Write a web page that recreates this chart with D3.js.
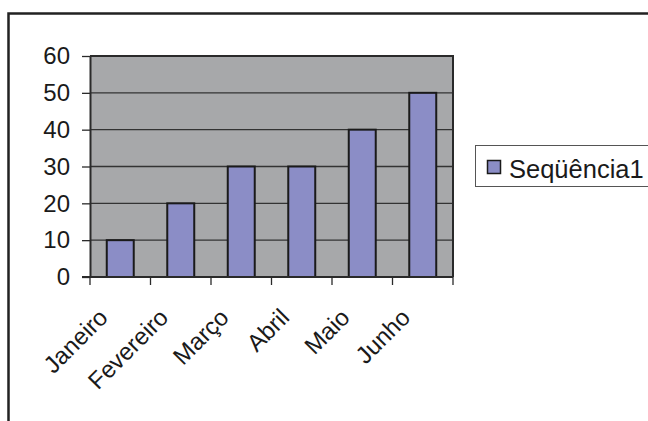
<!DOCTYPE html>
<html lang="pt">
<head>
<meta charset="UTF-8">
<title>Seqüência1</title>
<style>
    body { margin: 0; background: #fff; }
    svg { display: block; font-family: "Liberation Sans", Arial, sans-serif; }
</style>
</head>
<body>
<svg id="chart" width="648" height="421"></svg>
<script src="https://d3js.org/d3.v7.min.js"></script>
<script>
    // data
    const months = ["Janeiro", "Fevereiro", "Março", "Abril", "Maio", "Junho"];
    const values = [10, 20, 30, 30, 40, 50];
    const yTicks = [0, 10, 20, 30, 40, 50, 60];
    const seriesName = "Seqüência1";

    const plot = {left: 90, right: 453, top: 56, bottom: 277};

    const svg = d3.select("#chart");

    // outer frame (runs off the right and bottom of the window)
    svg.append("rect")
        .attr("x", 8.5).attr("y", 13.5)
        .attr("width", 700).attr("height", 500)
        .attr("fill", "none")
        .attr("stroke", "#222")
        .attr("stroke-width", 2.5);

    let x = d3.scaleBand()
        .domain(months)
        .range([plot.left, plot.right])
        .paddingInner(0.554)
        .paddingOuter(0.277);

    let xCat = d3.scaleBand()
        .domain(months)
        .range([plot.left, plot.right]);

    let y = d3.scaleLinear()
        .domain([0, 60])
        .range([plot.bottom, plot.top]);

    // plot background
    svg.append("rect")
        .attr("x", plot.left).attr("y", plot.top)
        .attr("width", plot.right - plot.left)
        .attr("height", plot.bottom - plot.top)
        .attr("fill", "#a7a8aa");

    // gridlines
    svg.append("g")
        .selectAll("line")
        .data(yTicks.slice(1, -1))
        .join("line")
        .attr("x1", plot.left).attr("x2", plot.right)
        .attr("y1", d => y(d)).attr("y2", d => y(d))
        .attr("stroke", "#333")
        .attr("stroke-width", 1.3);

    // bars
    svg.append("g")
        .selectAll("rect")
        .data(values)
        .join("rect")
        .attr("x", (d, i) => x(months[i]))
        .attr("y", d => y(d))
        .attr("width", x.bandwidth())
        .attr("height", d => y(0) - y(d))
        .attr("fill", "#8b8dc6")
        .attr("stroke", "#1a1a1a")
        .attr("stroke-width", 2);

    // plot border top/right
    svg.append("path")
        .attr("d", `M${plot.left},${plot.top}H${plot.right}V${plot.bottom}`)
        .attr("fill", "none")
        .attr("stroke", "#2a2a2a")
        .attr("stroke-width", 2);

    // y axis
    const yAxis = d3.axisLeft(y)
        .tickValues(yTicks)
        .tickSize(8)
        .tickPadding(12)
        .tickSizeOuter(0);
    const gy = svg.append("g")
        .attr("transform", `translate(${plot.left},0)`)
        .call(yAxis);
    gy.select(".domain").attr("stroke", "#2a2a2a").attr("stroke-width", 2);
    gy.selectAll(".tick line").attr("stroke", "#2a2a2a").attr("stroke-width", 1.3);
    gy.selectAll(".tick text")
        .attr("fill", "#1a1a1a")
        .style("font-size", "24px")
        .style("font-family", "'Liberation Sans', Arial, sans-serif");

    // x axis line and ticks at category edges
    svg.append("line")
        .attr("x1", plot.left - 8).attr("x2", plot.right)
        .attr("y1", plot.bottom).attr("y2", plot.bottom)
        .attr("stroke", "#2a2a2a")
        .attr("stroke-width", 2);

    const edges = months.map(m => xCat(m)).concat([plot.right]);
    svg.append("g")
        .selectAll("line")
        .data(edges)
        .join("line")
        .attr("x1", d => d).attr("x2", d => d)
        .attr("y1", plot.bottom).attr("y2", plot.bottom + 8)
        .attr("stroke", "#2a2a2a")
        .attr("stroke-width", 1.3);

    // rotated month labels
    svg.append("g")
        .selectAll("text")
        .data(months)
        .join("text")
        .attr("transform", d => `translate(${xCat(d) + xCat.bandwidth() / 2 - 11},${plot.bottom + 42}) rotate(-45)`)
        .attr("text-anchor", "end")
        .attr("fill", "#1a1a1a")
        .style("font-size", "24px")
        .text(d => d);

    // legend
    const legend = svg.append("g");
    legend.append("rect")
        .attr("x", 475.5).attr("y", 145.5)
        .attr("width", 200).attr("height", 41)
        .attr("fill", "#fff")
        .attr("stroke", "#555")
        .attr("stroke-width", 1);
    legend.append("rect")
        .attr("x", 487.5).attr("y", 160.5)
        .attr("width", 13).attr("height", 13)
        .attr("fill", "#8b8dc6")
        .attr("stroke", "#1a1a1a")
        .attr("stroke-width", 1.5);
    legend.append("text")
        .attr("x", 509).attr("y", 178)
        .attr("fill", "#1a1a1a")
        .style("font-size", "25.5px")
        .text(seriesName);
</script>
</body>
</html>
